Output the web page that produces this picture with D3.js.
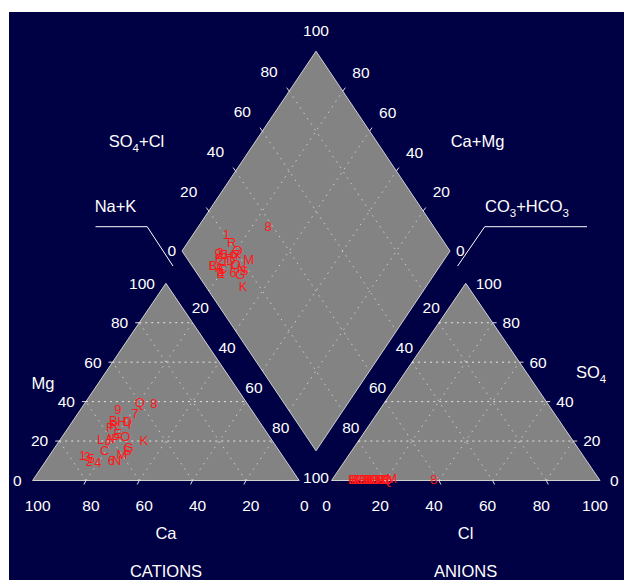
<!DOCTYPE html>
<html><head><meta charset="utf-8">
<script src="https://cdn.jsdelivr.net/npm/d3@7"></script>
<style>
html,body{margin:0;padding:0;background:#ffffff;}
svg{display:block;}
text{font-family:"Liberation Sans",Arial,sans-serif;}
</style>
</head><body>
<svg id="chart" width="624" height="580"></svg>
<script>
// ---------------- data ----------------
const sampleIds = ["1","2","3","4","5","6","7","8","9","A","B","C","D","E","F","G","H","I","J","K","L","M","N","O","P","Q","R","S"];
const caPct  = [75,74,73.5,71,72.5,65.5,44.5,35,50,60.5,54.5,65.5,49.5,56,57.5,55.5,51.5,49.5,61.5,48,64,60,63.5,54,58,40,55.5,57];
const mgPct  = [12.5,9.5,12,9,11,10,34,39,36,21.5,30.5,15,30,24,27,17,30,28.5,20.5,20.5,21,13,10,22.5,21.5,39.5,28,15];
const clPct  = [20,11.5,13.5,8.5,14.5,13,19,38,12.5,9.5,7.5,10.5,15.5,8.5,11.5,15.5,16.5,14.5,12.5,13.5,7.5,22,17.5,16,17.5,20.5,20,18];
const so4Pct = [0.7,0.5,0.5,0.5,0.5,0.6,0.7,0.3,0.5,0.5,0.5,0.5,0.5,0.5,0.5,0.5,0.5,0.5,0.5,0.5,0.5,0.8,0.5,0.7,0.5,0.5,0.6,0.3];
const tickValues = [0,20,40,60,80,100];
const gridValues = [20,40,60,80];

// ---------------- layout ----------------
const W = 624, H = 580;
const svg = d3.select("#chart");
const navy = "#000044", grey = "#838383", edge = "#d0d0d0", red = "#ff1a1a";

svg.append("rect").attr("x",0).attr("y",0).attr("width",W).attr("height",H).attr("fill","#ffffff");
svg.append("rect").attr("x",9).attr("y",12).attr("width",W-9).attr("height",H-12).attr("fill",navy);

// scales
const yTri = d3.scaleLinear().domain([0,100]).range([480.5,283.3]);
const xCat = d3.scaleLinear().domain([0,100]).range([32.6,299.2]);
const xAn  = d3.scaleLinear().domain([0,100]).range([331.5,600]);
const xDia = d3.scaleLinear().domain([0,200]).range([182,450]);
const yDia = d3.scaleLinear().domain([-100,100]).range([51.2,450.8]);

const catPt = (ca,mg) => { const nak = 100-ca-mg; return [xCat(nak+mg/2), yTri(mg)]; };
const anPt  = (cl,so4) => [xAn(cl+so4/2), yTri(so4)];
const diaPt = (nak,s) => [xDia(nak+s), yDia(nak-s)];

const line = d3.line();

// shapes
const catPoly = [catPt(100,0), catPt(0,0), catPt(0,100)];
const anPoly  = [anPt(0,0), anPt(100,0), anPt(0,100)];
const diaPoly = [diaPt(0,0), diaPt(0,100), diaPt(100,100), diaPt(100,0)];
[catPoly, anPoly, diaPoly].forEach(p => {
  svg.append("path").attr("d", line(p)+"Z").attr("fill",grey).attr("stroke",edge).attr("stroke-width",1);
});

// grids
const g = svg.append("g").attr("stroke","#ffffff").attr("fill","none");
function gl(a,b,dash,op){ g.append("path").attr("d",line([a,b])).attr("stroke-dasharray",dash).attr("stroke-opacity",op).attr("stroke-width",1); }
gridValues.forEach(v => {
  gl(catPt(100-v,v), catPt(0,v), "2,4", 0.8);
  gl(catPt(v,0), catPt(v,100-v), "1.5,5", 0.6);
  gl(catPt(100-v,0), catPt(0,100-v), "1.5,5", 0.6);
  gl(anPt(0,v), anPt(100-v,v), "2,4", 0.8);
  gl(anPt(v,0), anPt(v,100-v), "1.5,5", 0.6);
  gl(anPt(0,100-v), anPt(100-v,0), "1.5,5", 0.6);
  gl(diaPt(v,0), diaPt(v,100), "1.5,5", 0.6);
  gl(diaPt(0,v), diaPt(100,v), "1.5,5", 0.6);
});

// tick marks
const tk = svg.append("g").attr("stroke","#e0e0e0").attr("stroke-width",1);
function tick(p,dx,dy){ tk.append("line").attr("x1",p[0]).attr("y1",p[1]).attr("x2",p[0]+dx).attr("y2",p[1]+dy); }
gridValues.forEach(v => {
  tick(catPt(100-v,v), -4, 0);
  tick(catPt(v,0), -2, 4);
  tick(anPt(100-v,v), 4, 0);
  tick(anPt(v,0), 2, 4);
  tick(diaPt(0,v), -2.5, -3.5);
  tick(diaPt(100-v,100), 2.5, -3.5);
});

// tick labels
const lab = svg.append("g").attr("fill","#ffffff").attr("font-size",15.5);
function txt(p,dx,dy,s,anchor){
  lab.append("text").attr("x",p[0]+dx).attr("y",p[1]+dy).attr("dy","0.35em").attr("text-anchor",anchor).text(s);
}
tickValues.forEach(v => {
  txt(catPt(100-v,v), -11, 0, v, "end");
  txt(catPt(v,0), 5, 25, v, "middle");
  txt(anPt(v,0), -5, 25, v, "middle");
  txt(anPt(100-v,v), 10, 0, v, "start");
});
gridValues.forEach(v => {
  txt(diaPt(0,v), -11.5, -19.5, v, "end");
  txt(diaPt(100-v,100), 9.5, -19, v, "start");
  txt(diaPt(v,0), -8.5, 16.5, v, "middle");
  txt(diaPt(100,100-v), 8, 16.5, v, "middle");
});
txt(diaPt(0,100), 0, -21, 100, "middle");
txt(diaPt(0,0), -6, 0, 0, "end");
txt(diaPt(100,100), 6, 0, 0, "start");
txt(diaPt(100,0), 0, 27, 100, "middle");

// axis titles
const tt = svg.append("g").attr("fill","#ffffff").attr("font-size",16.5);
function titleSub(x,y,segs){
  const t = tt.append("text").attr("x",x).attr("y",y).attr("text-anchor","middle");
  let shifted = false;
  segs.forEach(s => {
    if (s.sub){ t.append("tspan").attr("font-size",11.5).attr("dy", shifted?0:5).text(s.sub); shifted = true; }
    else { t.append("tspan").attr("dy", shifted?-5:0).text(s.t); shifted = false; }
  });
  return t;
}
titleSub(136.5,146.5,[{t:"SO"},{sub:"4"},{t:"+Cl"}]);
titleSub(477.5,146.5,[{t:"Ca+Mg"}]);
titleSub(115.5,212,[{t:"Na+K"}]);
titleSub(527,212,[{t:"CO"},{sub:"3"},{t:"+HCO"},{sub:"3"}]);
titleSub(43,388.5,[{t:"Mg"}]);
titleSub(591,378,[{t:"SO"},{sub:"4"}]);
titleSub(166,538.5,[{t:"Ca"}]);
titleSub(465.6,538.5,[{t:"Cl"}]);
titleSub(166,577,[{t:"CATIONS"}]);
titleSub(465.6,577,[{t:"ANIONS"}]);

// leader lines
svg.append("path").attr("d",line([[95.5,226.7],[147.2,226.7],[173,266]])).attr("fill","none").attr("stroke","#ffffff").attr("stroke-width",1);
svg.append("path").attr("d",line([[587,226.7],[484.7,226.7],[457.6,266]])).attr("fill","none").attr("stroke","#ffffff").attr("stroke-width",1);

// sample labels
const data = sampleIds.map((id,i) => {
  const ca = caPct[i], mg = mgPct[i], nak = 100-ca-mg;
  const cl = clPct[i], so4 = so4Pct[i];
  return {id, cat: catPt(ca,mg), an: anPt(cl,so4), dia: diaPt(nak, cl+so4)};
});
const pts = svg.append("g").attr("fill",red).attr("font-size",13).attr("text-anchor","middle");
["cat","an","dia"].forEach(k => {
  pts.selectAll(null).data(data).enter().append("text")
    .attr("x",d=>d[k][0]).attr("y",d=>d[k][1]).attr("dy","0.35em").text(d=>d.id);
});
</script>
</body></html>
